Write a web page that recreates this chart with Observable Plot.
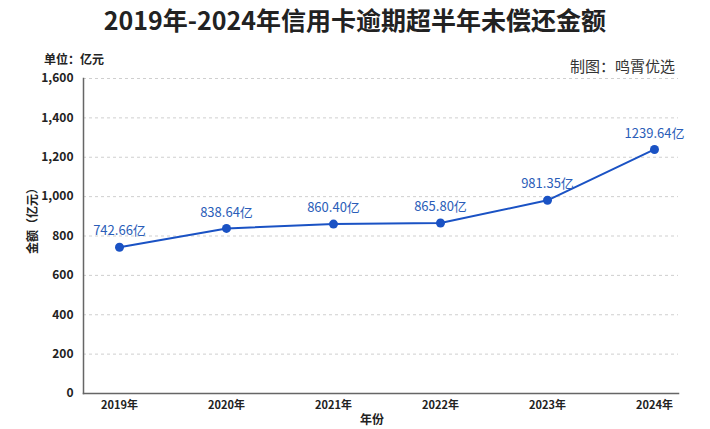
<!DOCTYPE html>
<html>
<head>
<meta charset="utf-8">
<script src="https://cdn.jsdelivr.net/npm/d3@7"></script>
<script src="https://cdn.jsdelivr.net/npm/@observablehq/plot@0.6"></script>
<style>
  body { margin: 0; background: #fff; font-family: "Noto Sans CJK SC", "Noto Sans", sans-serif; }
  #wrap { position: relative; width: 710px; height: 429px; overflow: hidden; background: #fff; }
  #wrap svg { position: absolute; left: 0; top: 0; }
  .t { position: absolute; white-space: nowrap; color: #222; }
</style>
</head>
<body>
<div id="wrap">
  <div class="t" id="title" style="left:0;width:710px;text-align:center;top:1px;font-size:25px;font-weight:bold;">2019年-2024年信用卡逾期超半年未偿还金额</div>
  <div class="t" style="left:44px;top:50px;font-size:12px;font-weight:bold;">单位：亿元</div>
  <div class="t" style="right:35px;top:55px;font-size:15px;color:#333;">制图：鸣霄优选</div>
  <div class="t" style="left:31px;top:218px;font-size:12px;font-weight:bold;transform:translate(-50%,-50%) rotate(-90deg);">金额（亿元）</div>
  <div class="t" style="left:372px;top:410px;font-size:12px;font-weight:bold;transform:translateX(-50%);">年份</div>
</div>
<script>
// Years on the x axis and the overdue amounts (亿元) for each year
const years = ["2019年", "2020年", "2021年", "2022年", "2023年", "2024年"];
const amounts = [742.66, 838.64, 860.40, 865.80, 981.35, 1239.64];
const yTicks = [0, 200, 400, 600, 800, 1000, 1200, 1400, 1600];

const data = years.map((year, i) => ({year, amount: amounts[i]}));
const lineColor = "#1a52c4";

const chart = Plot.plot({
  width: 710,
  height: 429,
  marginTop: 78,
  marginBottom: 36,
  marginLeft: 83,
  marginRight: 32,
  style: {fontFamily: "'Noto Sans CJK SC', 'Noto Sans', sans-serif", fontSize: "12px", color: "#222", background: "transparent"},
  x: {type: "point", domain: years, padding: 0, insetLeft: 36, insetRight: 24, label: null},
  y: {domain: [0, 1600], ticks: yTicks, label: null},
  marks: [
    Plot.gridY(yTicks.filter(d => d > 0), {stroke: "#cfcfcf", strokeOpacity: 1, strokeDasharray: "3,3"}),
    Plot.axisY({ticks: yTicks, tickSize: 0, tickPadding: 10, tickFormat: d3.format(","), fontSize: 12, fontWeight: "bold", fill: "#222"}),
    Plot.axisX({tickSize: 0, tickPadding: 8, fontSize: 11, fontWeight: "bold", fill: "#222"}),
    Plot.frame({anchor: "left", stroke: "#666", strokeWidth: 1.5}),
    Plot.frame({anchor: "bottom", stroke: "#666", strokeWidth: 1.5}),
    Plot.line(data, {x: "year", y: "amount", stroke: lineColor, strokeWidth: 2}),
    Plot.dot(data, {x: "year", y: "amount", r: 4.5, fill: lineColor}),
    Plot.text(data, {x: "year", y: "amount", text: d => d.amount.toFixed(2) + "亿", dy: -16, fill: "#2a5db8", fontSize: 13})
  ]
});
document.getElementById("wrap").prepend(chart);
</script>
</body>
</html>
